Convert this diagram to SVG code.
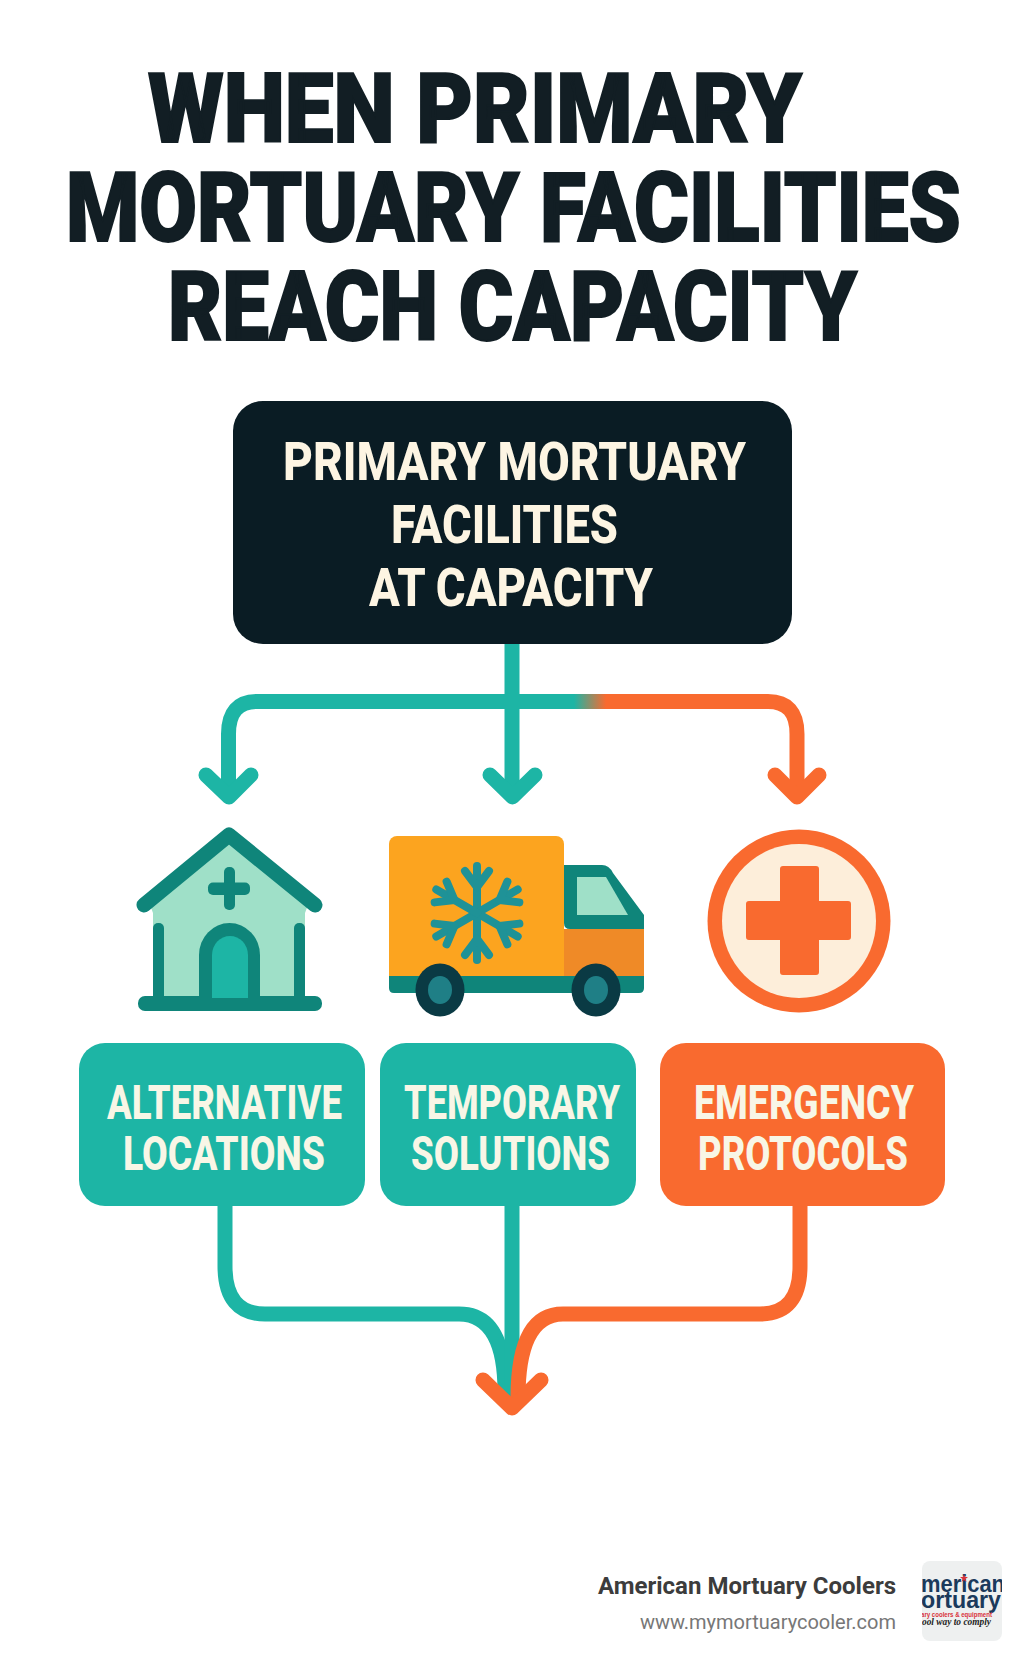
<svg xmlns="http://www.w3.org/2000/svg" width="1024" height="1666" viewBox="0 0 1024 1666">
<style>
.t{font-family:"Roboto","Liberation Sans",sans-serif;font-weight:900;fill:#121e24;stroke:#121e24;stroke-width:2;font-size:97px}
.h{font-family:"Roboto","Liberation Sans",sans-serif;font-weight:800;fill:#fdf5e3;font-size:54px}
.l{font-family:"Roboto","Liberation Sans",sans-serif;font-weight:800;fill:#f8f6e6;font-size:49px}
.c{fill:none;stroke-width:15;stroke-linejoin:round}
.head{fill:none;stroke-width:15;stroke-linecap:round;stroke-linejoin:round}
.teal{stroke:#1db5a5}.or{stroke:#f96a2f}
.dk{fill:#0f857a}.mint{fill:#9fe0c8}
</style>
<defs>
<linearGradient id="bar" gradientUnits="userSpaceOnUse" x1="574" y1="0" x2="606" y2="0"><stop offset="0" stop-color="#1db5a5"/><stop offset="1" stop-color="#f96a2f"/></linearGradient>
<clipPath id="lc"><rect x="922" y="1561" width="80" height="80" rx="8"/></clipPath>
<g id="arm"><path d="M0,0V-47" fill="none" stroke="#1f9297" stroke-width="8" stroke-linecap="round"/><path d="M-12,-42L0,-26L12,-42" fill="none" stroke="#1f9297" stroke-width="8" stroke-linecap="round" stroke-linejoin="round"/></g>
</defs>
<rect width="1024" height="1666" fill="#fff"/>
<g id="title">
<text class="t" x="148" y="142" textLength="654" lengthAdjust="spacingAndGlyphs">WHEN PRIMARY</text>
<text class="t" x="66" y="241" textLength="895" lengthAdjust="spacingAndGlyphs">MORTUARY FACILITIES</text>
<text class="t" x="168" y="340" textLength="689" lengthAdjust="spacingAndGlyphs">REACH CAPACITY</text>
</g>
<g id="connectors">
<path class="c" d="M512,644V790" stroke="#1db5a5"/>
<path class="c teal" d="M512,701.500H257Q228.500,701.500 228.500,734V788"/>
<path class="c" d="M512,701.500H768Q797,701.500 797,734V788" stroke="url(#bar)"/>
<path class="head teal" d="M206,775L229,797L251,775"/>
<path class="head teal" d="M490,775L512.500,797L535,775"/>
<path class="head or" d="M775,775L797,797L819,775"/>
<path class="c teal" d="M225,1206V1266Q225,1314 265,1314H459Q505,1314 505,1392"/>
<path class="c" d="M512,1206V1398" stroke="#1db5a5"/>
<path class="c or" d="M800,1206V1266Q800,1314 760,1314H563Q518,1314 518,1398"/>
<path class="head" d="M483,1380L512,1408L541,1380" stroke="#f96a2f"/>
</g>
<g id="node-primary">
<rect x="233" y="401" width="559" height="243" rx="30" fill="#0a1c24"/>
<text class="h" x="283" y="480" textLength="463" lengthAdjust="spacingAndGlyphs">PRIMARY MORTUARY</text>
<text class="h" x="391" y="543" textLength="227" lengthAdjust="spacingAndGlyphs">FACILITIES</text>
<text class="h" x="369" y="606" textLength="284" lengthAdjust="spacingAndGlyphs">AT CAPACITY</text>
</g>
<g id="icon-house" transform="translate(0,-3)">
<path class="mint" d="M229,842L308,908L305,916V1001H153V916L150,908Z"/>
<path d="M144,908L229,838L315,908" fill="none" stroke="#0f857a" stroke-width="15" stroke-linecap="round" stroke-linejoin="round"/>
<rect class="dk" x="153" y="926" width="11" height="78" rx="5"/>
<rect class="dk" x="294" y="926" width="11" height="78" rx="5"/>
<rect class="dk" x="138" y="999" width="184" height="15" rx="7"/>
<path class="dk" d="M199,1001V958A30.500,32 0 0 1 260,958V1001Z"/>
<path d="M212,1001V958A18,19 0 0 1 248,958V1001Z" fill="#1db5a5"/>
<rect class="dk" x="224" y="870" width="11" height="43" rx="5"/>
<rect class="dk" x="208" y="885.500" width="42" height="12.500" rx="5"/>
</g>
<g id="icon-truck" transform="translate(-2,-2)">
<path d="M391,846a8,8 0 0 1 8,-8H558a8,8 0 0 1 8,8V978H391Z" fill="#fca41f"/>
<rect x="566" y="931" width="80" height="47" fill="#ef8a27"/>
<path class="dk" d="M566,867H604Q611,867 615,875L646,917V931H572Q566,931 566,925Z"/>
<path class="mint" d="M579,879H608L630,917H579Z"/>
<path class="dk" d="M391,978H646V990Q646,995 641,995H396Q391,995 391,990Z"/>
<g fill="#0a3a44"><ellipse cx="442" cy="992" rx="24.500" ry="26.500"/><ellipse cx="598" cy="992" rx="24.500" ry="26.500"/></g>
<g fill="#1f7f86"><ellipse cx="442" cy="992" rx="12" ry="14"/><ellipse cx="598" cy="992" rx="12" ry="14"/></g>
<g transform="translate(479,915)">
<use href="#arm"/><use href="#arm" transform="rotate(60)"/><use href="#arm" transform="rotate(120)"/><use href="#arm" transform="rotate(180)"/><use href="#arm" transform="rotate(240)"/><use href="#arm" transform="rotate(300)"/>
</g>
</g>
<g id="icon-medical" transform="translate(-3,-3)">
<circle cx="802" cy="924" r="91.500" fill="#f96a2f"/>
<circle cx="802" cy="924" r="77" fill="#fdeeda"/>
<path d="M786,869H819Q822,869 822,872V904H851Q854,904 854,907V940Q854,943 851,943H822V975Q822,978 819,978H786Q783,978 783,975V943H752Q749,943 749,940V907Q749,904 752,904H783V872Q783,869 786,869Z" fill="#f96a2f"/>
</g>
<g id="node-alternative">
<rect x="79" y="1043" width="286" height="163" rx="26" fill="#1db5a5"/>
<text class="l" x="107" y="1119" textLength="235" lengthAdjust="spacingAndGlyphs">ALTERNATIVE</text>
<text class="l" x="123" y="1170" textLength="202" lengthAdjust="spacingAndGlyphs">LOCATIONS</text>
</g>
<g id="node-temporary">
<rect x="380" y="1043" width="256" height="163" rx="26" fill="#1db5a5" transform="translate(0,0)"/>
<text class="l" x="404" y="1119" textLength="216" lengthAdjust="spacingAndGlyphs">TEMPORARY</text>
<text class="l" x="411" y="1170" textLength="199" lengthAdjust="spacingAndGlyphs">SOLUTIONS</text>
</g>
<g id="node-emergency">
<rect x="660" y="1043" width="285" height="163" rx="26" fill="#f96a2f"/>
<text class="l" x="694" y="1119" textLength="220" lengthAdjust="spacingAndGlyphs">EMERGENCY</text>
<text class="l" x="698" y="1170" textLength="210" lengthAdjust="spacingAndGlyphs">PROTOCOLS</text>
</g>
<g id="footer">
<text x="896" y="1594" text-anchor="end" font-family="Roboto,'Liberation Sans',sans-serif" font-weight="700" font-size="24" fill="#3c3c3c">American Mortuary Coolers</text>
<text x="896" y="1629" text-anchor="end" font-family="Roboto,'Liberation Sans',sans-serif" font-size="20" fill="#777">www.mymortuarycooler.com</text>
<rect x="922" y="1561" width="80" height="80" rx="8" fill="#eef0f0"/>
<g clip-path="url(#lc)">
<text x="921" y="1592" font-family="'Liberation Sans',sans-serif" font-weight="700" font-size="23" textLength="84" lengthAdjust="spacingAndGlyphs" fill="#1b3a5c">merican</text>
<text x="921" y="1608" font-family="'Liberation Sans',sans-serif" font-weight="700" font-size="23" textLength="80" lengthAdjust="spacingAndGlyphs" fill="#1b3a5c">ortuary</text>
<text x="921" y="1617" font-family="'Liberation Sans',sans-serif" font-weight="700" font-size="7" textLength="71" lengthAdjust="spacingAndGlyphs" fill="#d9323a">ary coolers &amp; equipment</text>
<text x="922" y="1625" font-family="'Liberation Serif',serif" font-style="italic" font-weight="700" font-size="10" textLength="69" lengthAdjust="spacingAndGlyphs" fill="#222">ool way to comply</text>
<path d="M964,1574l1,3h3l-2.500,2 1,3-2.500,-2-2.500,2 1,-3-2.500,-2h3Z" fill="#d9323a"/>
</g>
</g>
</svg>
